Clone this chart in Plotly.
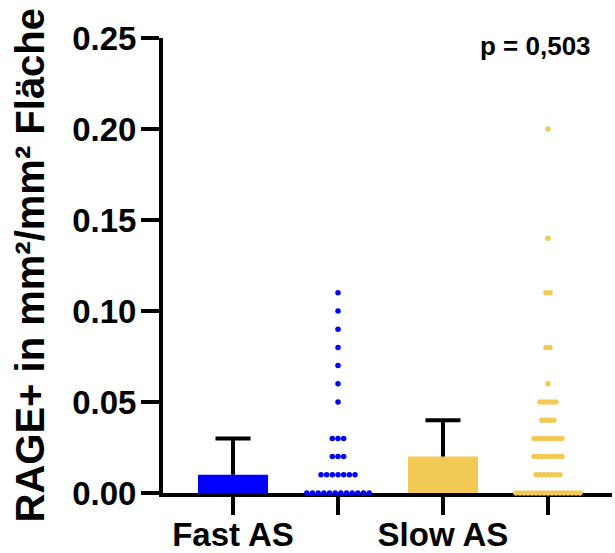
import plotly.graph_objects as go
from collections import Counter

# ---- data ----
categories = ["Fast AS", "", "Slow AS", ""]
bar_groups = ["Fast AS", "Slow AS"]
bar_values = [0.01, 0.02]
bar_errors = [0.02, 0.02]

fast_values = [0.11, 0.10, 0.09, 0.08, 0.07, 0.06, 0.05,
               0.03, 0.03, 0.03,
               0.02, 0.02, 0.02,
               0.01, 0.01, 0.01, 0.01, 0.01, 0.01, 0.01,
               0.00, 0.00, 0.00, 0.00, 0.00, 0.00,
               0.00, 0.00, 0.00, 0.00, 0.00, 0.00]
slow_values = [0.20, 0.14, 0.11, 0.11, 0.08, 0.08, 0.06,
               0.05, 0.05, 0.05, 0.05, 0.05,
               0.04, 0.04, 0.04, 0.04,
               0.03, 0.03, 0.03, 0.03, 0.03, 0.03, 0.03, 0.03,
               0.02, 0.02, 0.02, 0.02, 0.02, 0.02, 0.02, 0.02,
               0.01, 0.01, 0.01, 0.01, 0.01, 0.01, 0.01,
               0.00, 0.00, 0.00, 0.00, 0.00, 0.00, 0.00, 0.00, 0.00,
               0.00, 0.00, 0.00, 0.00, 0.00, 0.00, 0.00, 0.00]
y_ticks = [0.00, 0.05, 0.10, 0.15, 0.20, 0.25]
p_text = "p = 0,503"

BLUE = "#0000FF"
GOLD = "#F2C955"
FONT = "Liberation Sans, Arial, sans-serif"
BAR_X = [1, 3]
CAP_HALF = 0.167


def swarm(values, center, spacing):
    counts = Counter(values)
    idx = Counter()
    xs = []
    for v in values:
        n = counts[v]
        i = idx[v]
        idx[v] += 1
        xs.append(center + (i - (n - 1) / 2) * spacing)
    return xs


fig = go.Figure()
fig.add_trace(go.Bar(
    x=BAR_X, y=bar_values, width=0.667,
    marker=dict(color=[BLUE, GOLD], line=dict(width=0)),
    showlegend=False,
))

# upward-only error bars (stem + cap) built from the bar data
ex, ey = [], []
for xc, v, e in zip(BAR_X, bar_values, bar_errors):
    ex += [xc, xc, None, xc - CAP_HALF, xc + CAP_HALF, None]
    ey += [v, v + e, None, v + e, v + e, None]
fig.add_trace(go.Scatter(
    x=ex, y=ey, mode="lines", line=dict(color="black", width=4),
    showlegend=False, hoverinfo="skip",
))

fig.add_trace(go.Scatter(
    x=swarm(fast_values, 2, 0.054), y=fast_values, mode="markers",
    marker=dict(color=BLUE, size=5.5), cliponaxis=False, showlegend=False,
))
fig.add_trace(go.Scatter(
    x=swarm(slow_values, 4, 0.038), y=slow_values, mode="markers",
    marker=dict(color=GOLD, size=5.5), cliponaxis=False, showlegend=False,
))

fig.update_layout(
    width=615, height=553,
    margin=dict(l=163, r=3, t=38, b=60),
    paper_bgcolor="white", plot_bgcolor="white",
    font=dict(family=FONT, color="black", size=33, weight="bold"),
    xaxis=dict(
        range=[0.333, 4.61], tickvals=[1, 2, 3, 4], ticktext=categories,
        showline=True, linecolor="black", linewidth=4,
        ticks="outside", ticklen=18, tickwidth=4, tickcolor="black",
        showgrid=False, zeroline=False, layer="below traces",
        automargin=False, ticklabelstandoff=-9,
        tickfont=dict(family=FONT, size=33, weight="bold"),
    ),
    yaxis=dict(
        range=[0, 0.25], tickvals=y_ticks, tickformat=".2f",
        showline=True, linecolor="black", linewidth=4,
        ticks="outside", ticklen=18, tickwidth=4, tickcolor="black",
        showgrid=False, zeroline=False, layer="below traces",
        automargin=False, ticklabelstandoff=-2,
        tickfont=dict(family=FONT, size=33, weight="bold"),
    ),
    annotations=[
        dict(text="RAGE+ in mm²/mm² Fläche", textangle=-90,
             xref="paper", yref="paper", x=(29 - 163) / 449, y=0.5,
             xanchor="center", yanchor="middle", showarrow=False,
             font=dict(family=FONT, size=40, weight="bold")),
        dict(text=p_text, xref="paper", yref="paper",
             x=(535 - 163) / 449, y=(493 - 46) / 455,
             xanchor="center", yanchor="middle", showarrow=False,
             font=dict(family=FONT, size=26, weight="bold")),
    ],
)

fig.write_html(
    "out.html",
    config={"displayModeBar": False},
    post_script="document.body.style.margin='0';document.body.style.overflow='hidden';",
)
